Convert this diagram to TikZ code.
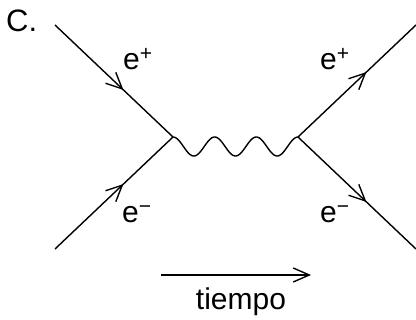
\documentclass[tikz,border=0pt]{standalone}
\usepackage{fontspec}
\setmainfont{Liberation Sans}
\usetikzlibrary{arrows.meta,decorations.markings}
\tikzset{
  fermion/.style={line width=1.4pt,
    postaction={decorate,decoration={markings,
      mark=at position 0.58 with {\arrow{Straight Barb[length=16pt,width=15pt,line width=1.4pt]}}}}},
  photon/.style={line width=1.4pt},
  lbl/.style={inner sep=0pt,font=\fontsize{30}{35}\selectfont,anchor=base west},
  timearrow/.style={line width=1.4pt,-{Straight Barb[length=16pt,width=14pt,line width=1.4pt]}}
}
\begin{document}
\begin{tikzpicture}[x=1pt,y=-1pt]
\useasboundingbox (0,0) rectangle (416,320);
\coordinate (a1) at (55,25);
\coordinate (a2) at (55,249);
\coordinate (v1) at (173,137);
\coordinate (v2) at (298,137);
\coordinate (b1) at (416,25);
\coordinate (b2) at (416,249);
\draw[fermion] (a1) -- (v1);
\draw[fermion] (a2) -- (v1);
\draw[fermion] (v2) -- (b1);
\draw[fermion] (v2) -- (b2);
\draw[photon] plot[domain=0:1,samples=120,smooth] ({173+125*\x},{137+9.5*(1-cos(3*360*\x))});
\node[lbl,font=\fontsize{31}{36}\selectfont] (C) at (6,32) {C.};
\node[lbl] (ep1) at (123,70) {e\textsuperscript{+}};
\node[lbl] (ep2) at (320,70) {e\textsuperscript{+}};
\node[lbl] (em1) at (122,223) {e\textsuperscript{−}};
\node[lbl] (em2) at (320,223) {e\textsuperscript{−}};
\coordinate (t1) at (161,275);
\coordinate (t2) at (311,275);
\draw[timearrow] (t1) -- (t2);
\node[lbl,anchor=base] (time) at (241,310) {tiempo};
\end{tikzpicture}
\end{document}
